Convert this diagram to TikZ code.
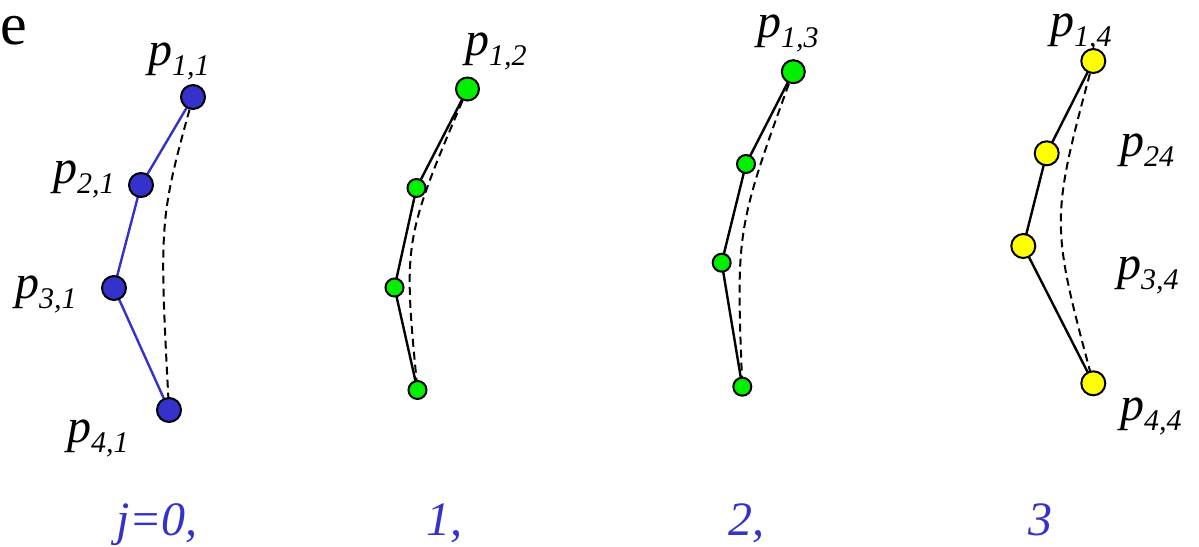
\documentclass[tikz,border=0pt]{standalone}
\usepackage{fontspec}
\setmainfont{LiberationSerif}[Extension=.ttf,UprightFont=*-Regular,ItalicFont=*-Italic,BoldFont=*-Bold,BoldItalicFont=*-BoldItalic]
\definecolor{myblue}{HTML}{3333CC}
\definecolor{mygreen}{HTML}{00F000}
\definecolor{myyellow}{HTML}{FFFF00}
\newcommand{\plab}[1]{{\rmfamily\fontsize{48}{48}\selectfont\itshape p\raisebox{-10pt}{\fontsize{30}{30}\selectfont #1}}}
\begin{document}
\begin{tikzpicture}[x=1pt,y=-1pt,
  pt/.style={circle,draw=black,line width=2pt,inner sep=0pt,minimum size=#1},
  bpt/.style={pt=24pt,fill=myblue},
  gbig/.style={pt=23pt,fill=mygreen},
  gsm/.style={pt=18pt,fill=mygreen},
  ypt/.style={pt=24pt,fill=myyellow},
  poly/.style={line width=2.4pt},
  dashline/.style={line width=2pt,dash pattern=on 8pt off 5pt},
  lab/.style={anchor=base west,inner sep=0pt},
  jlab/.style={anchor=base west,inner sep=0pt,text=myblue,font=\rmfamily\fontsize{48}{48}\selectfont\itshape}]
\useasboundingbox (0,0) rectangle (1199,546);
\node[anchor=base west,inner sep=0pt,font=\rmfamily\fontsize{60}{60}\selectfont] (e) at (0,44) {e};
% panel 1
\coordinate (a1) at (193,97);
\coordinate (a2) at (141,185);
\coordinate (a3) at (114,288);
\coordinate (a4) at (169,410);
\draw[dashline] (a1) .. controls (159,220) .. (a4);
\draw[poly,myblue] (a1) -- (a2) -- (a3) -- (a4);
\node[bpt] (A1) at (a1) {};
\node[bpt] (A2) at (a2) {};
\node[bpt] (A3) at (a3) {};
\node[bpt] (A4) at (a4) {};
\node[lab] (l11) at (148,65) {\plab{1,1}};
\node[lab] (l21) at (53,183) {\plab{2,1}};
\node[lab] (l31) at (15,298) {\plab{3,1}};
\node[lab] (l41) at (67,442) {\plab{4,1}};
% panel 2
\coordinate (b1) at (467.5,89);
\coordinate (b2) at (416.5,188);
\coordinate (b3) at (394.5,287.5);
\coordinate (b4) at (417.5,390);
\draw[dashline] (b1) .. controls (403,240) .. (b4);
\draw[poly] (b1) -- (b2) -- (b3) -- (b4);
\node[gbig] (B1) at (b1) {};
\node[gsm] (B2) at (b2) {};
\node[gsm] (B3) at (b3) {};
\node[gsm] (B4) at (b4) {};
\node[lab] (l12) at (465,55) {\plab{1,2}};
% panel 3
\coordinate (c1) at (793.3,71.7);
\coordinate (c2) at (746,164);
\coordinate (c3) at (721.7,262.7);
\coordinate (c4) at (742.3,386.7);
\draw[dashline] (c1) .. controls (736,229) .. (c4);
\draw[poly] (c1) -- (c2) -- (c3) -- (c4);
\node[gbig] (C1) at (c1) {};
\node[gsm] (C2) at (c2) {};
\node[gsm] (C3) at (c3) {};
\node[gsm] (C4) at (c4) {};
\node[lab] (l13) at (757,37) {\plab{1,3}};
% panel 4
\coordinate (d1) at (1093.3,61);
\coordinate (d2) at (1046.7,153.3);
\coordinate (d3) at (1023.3,246);
\coordinate (d4) at (1093.3,383.3);
\draw[dashline] (d1) .. controls (1050,222) .. (d4);
\draw[poly] (d1) -- (d2) -- (d3) -- (d4);
\node[ypt] (D1) at (d1) {};
\node[ypt] (D2) at (d2) {};
\node[ypt] (D3) at (d3) {};
\node[ypt] (D4) at (d4) {};
\node[lab] (l14) at (1050,36) {\plab{1,4}};
\node[lab] (l24) at (1120,156) {\plab{24}};
\node[lab] (l34) at (1117,279) {\plab{3,4}};
\node[lab] (l44) at (1120,420) {\plab{4,4}};
% bottom labels
\node[jlab] (j0) at (116,535) {j=0,};
\node[jlab] (j1) at (426,535) {1,};
\node[jlab] (j2) at (728,535) {2,};
\node[jlab] (j3) at (1028,535) {3};
\end{tikzpicture}
\end{document}
